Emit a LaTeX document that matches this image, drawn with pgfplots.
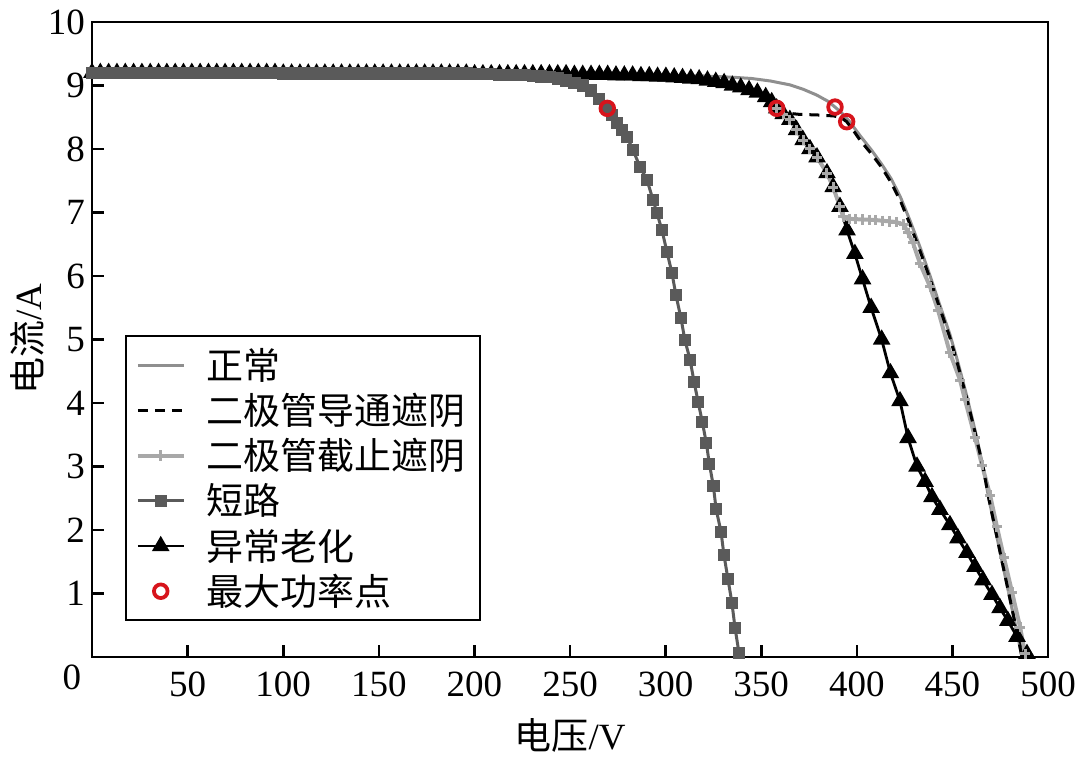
\documentclass[border=0pt]{standalone}
\usepackage{fontspec}
\setmainfont{Liberation Serif}
\newfontfamily\cjk{Noto Sans CJK SC}
\usepackage{pgfplots}
\usepackage{pgfplotstable}
\pgfplotsset{compat=1.18}

\definecolor{cnormal}{HTML}{8F8F8F}
\definecolor{ccut}{HTML}{A8A8A8}
\definecolor{cshort}{HTML}{5A5A5A}
\definecolor{cmpp}{HTML}{D7141C}

\newcommand{\bigfont}{\fontsize{18.5}{21}\selectfont}

\pgfplotsset{
  normalstyle/.style={cnormal, line width=1.5pt, no marks},
  condstyle/.style={black, line width=1.5pt, dash pattern=on 5pt off 3.5pt, no marks},
  cutline/.style={ccut, line width=2pt, no marks},
  cutstyle/.style={ccut, line width=2pt, mark=+, mark size=2.6pt, mark options={solid, line width=1.5pt}},
  shortstyle/.style={cshort, line width=1.5pt, mark=square*, mark size=2.3pt, mark options={solid, fill=cshort}},
  agestyle/.style={black, line width=1.4pt, mark=triangle*, mark size=3.7pt, mark options={solid}},
  mppstyle/.style={only marks, mark=o, mark size=3.4pt, mark options={cmpp, line width=1.9pt}},
}

% normal string
\pgfplotstableread{
V I
0 9.20
50 9.20
100 9.19
150 9.19
200 9.18
250 9.17
300 9.16
320 9.15
335 9.13
345 9.11
355 9.07
365 9.01
372 8.94
379 8.85
385 8.75
388.6 8.66
392 8.57
396 8.44
401.7 8.21
408 7.97
413 7.76
418 7.53
423 7.23
428 6.86
433 6.46
438 6.03
443 5.58
448.7 5.08
453 4.63
457.6 4.10
462 3.55
466 3.00
469 2.50
472.5 2.00
476 1.50
479.5 1.00
483 0.50
486.4 0
}\normaldata

% abnormal ageing (also the first part of both shading curves)
\pgfplotstableread{
V I
0 9.20
4.35 9.20
8.7 9.20
13.05 9.20
17.4 9.20
21.75 9.20
26.1 9.20
30.45 9.20
34.8 9.20
39.15 9.20
43.5 9.20
47.85 9.20
52.2 9.20
56.55 9.20
60.9 9.20
65.25 9.20
69.6 9.20
73.95 9.20
78.3 9.20
82.65 9.20
87 9.20
91.35 9.20
95.7 9.20
100.05 9.19
104.4 9.19
108.75 9.19
113.1 9.19
117.45 9.19
121.8 9.19
126.15 9.19
130.5 9.19
134.85 9.19
139.2 9.19
143.55 9.19
147.9 9.19
152.25 9.19
156.6 9.19
160.95 9.19
165.3 9.19
169.65 9.19
174 9.19
178.35 9.19
182.7 9.19
187.05 9.19
191.4 9.19
195.75 9.19
200.1 9.18
204.45 9.18
208.8 9.18
213.15 9.18
217.5 9.18
221.85 9.18
226.2 9.18
230.55 9.18
234.9 9.18
239.25 9.18
243.6 9.18
247.95 9.18
252.3 9.17
256.65 9.17
261 9.17
265.35 9.17
269.7 9.17
274.05 9.16
278.4 9.16
282.75 9.16
287.1 9.15
291.45 9.15
295.8 9.14
300.15 9.14
304.5 9.13
308.85 9.12
313.2 9.11
317.55 9.10
321.9 9.08
326.25 9.06
330.6 9.04
334.95 9.00
339.3 8.97
343.65 8.93
348 8.89
352.35 8.82
355.5 8.74
358.1 8.64
361.5 8.55
365 8.46
368.5 8.30
371.9 8.14
375.5 8.00
379.2 7.87
384.4 7.62
387.6 7.40
391.2 7.09
394.9 6.72
399 6.35
403 5.95
407.5 5.50
413 5.00
417.6 4.47
422.6 4.03
426.8 3.45
431.5 3.00
435.7 2.76
439.3 2.52
443.5 2.32
448.7 2.08
452.9 1.87
457.6 1.64
461.8 1.42
466 1.21
470.7 0.98
474.9 0.77
479 0.57
483.8 0.32
489 0.05
}\agedata

% diode conducting shading, after the first MPP
\pgfplotstableread{
V I
358.1 8.64
362 8.57
370 8.545
380 8.535
388 8.52
392 8.49
394.7 8.43
398 8.30
401.7 8.14
408 7.91
413 7.71
418 7.47
423 7.17
428 6.80
433 6.40
438 5.98
443 5.53
448.7 5.03
453 4.58
457.6 4.06
462 3.52
466 3.00
469 2.50
472.5 2.00
476 1.50
479.5 1.00
483 0.50
486.4 0
}\conddata

% diode cut-off shading, after the first MPP
\pgfplotstableread{
V I
358.1 8.64
361.5 8.55
365 8.46
368.5 8.30
371.9 8.14
375.5 8.00
379.2 7.87
384.4 7.62
387.6 7.40
391.2 7.09
393 6.93
396 6.90
399.5 6.895
403 6.89
406.5 6.885
410 6.88
413.5 6.87
417 6.86
420.5 6.85
424.6 6.81
426.8 6.68
429.4 6.52
433 6.20
438.3 5.83
442.5 5.46
448.7 4.79
454 4.36
456.6 4.05
461.8 3.46
465.5 3.02
469.7 2.55
473.3 2.05
477 1.56
481.2 1.02
485.4 0.47
488 0.05
}\cutdata

% short circuit
\pgfplotstableread{
V I
0 9.20
4.35 9.20
8.7 9.20
13.05 9.20
17.4 9.20
21.75 9.20
26.1 9.20
30.45 9.20
34.8 9.20
39.15 9.20
43.5 9.20
47.85 9.20
52.2 9.20
56.55 9.20
60.9 9.20
65.25 9.20
69.6 9.20
73.95 9.20
78.3 9.20
82.65 9.20
87 9.20
91.35 9.20
95.7 9.20
100.05 9.19
104.4 9.19
108.75 9.19
113.1 9.19
117.45 9.19
121.8 9.19
126.15 9.19
130.5 9.19
134.85 9.19
139.2 9.19
143.55 9.19
147.9 9.19
152.25 9.19
156.6 9.19
160.95 9.19
165.3 9.19
169.65 9.19
174 9.19
178.35 9.19
182.7 9.19
187.05 9.19
191.4 9.19
195.75 9.19
200.1 9.18
204.45 9.18
208.8 9.18
213.15 9.17
217.5 9.17
221.85 9.17
226.2 9.16
230.55 9.15
234.9 9.14
239.25 9.13
243.6 9.11
247.95 9.08
252.3 9.04
256.65 9.00
261 8.92
265.35 8.79
269.5 8.64
272 8.53
274.6 8.41
277.2 8.30
279.8 8.19
283 7.98
286.6 7.72
290.3 7.51
293.4 7.20
295.5 6.99
298.1 6.72
300.7 6.38
303.3 6.05
305.4 5.70
308 5.34
310.1 4.99
312.8 4.68
314.9 4.33
317 4.02
319.2 3.70
321.3 3.37
322.9 3.04
325 2.69
326.4 2.33
329 1.97
330.5 1.61
332.6 1.23
334.7 0.85
336.3 0.46
338.4 0.06
}\shortdata

% maximum power points
\pgfplotstableread{
V I
269.5 8.64
358.1 8.64
388.6 8.66
394.7 8.43
}\mppdata

\begin{document}
\begin{tikzpicture}
\useasboundingbox (-46pt,-50.5pt) rectangle (494pt,328.5pt);
\begin{axis}[
    scale only axis,
    width=478pt, height=317.5pt,
    xmin=0, xmax=500, ymin=0, ymax=10,
    xtick={50,100,...,500}, ytick={1,2,...,10},
    tick align=inside, xtick pos=bottom, ytick pos=left,
    major tick length=6pt,
    axis line style={line width=1.3pt},
    tick style={line width=1.3pt, black},
    ticklabel style={font=\bigfont},
    xticklabel style={yshift=-4pt},
    /pgf/number format/assume math mode=true,
    xlabel={{\cjk 电压}/V},
    ylabel={{\cjk 电流}/A},
    label style={font=\bigfont},
    xlabel style={at={(axis description cs:0.5,0)}, anchor=center, yshift=-39pt},
    ylabel style={at={(axis description cs:0,0.5)}, anchor=center, yshift=32.5pt},
    clip=false,
    legend image code/.code={\draw[mark repeat=2,mark phase=2,#1] plot coordinates {(0cm,0cm) (0.4cm,0cm) (0.8cm,0cm)}; \path (1.1cm,0cm);},
    legend cell align=left,
    legend style={at={(0.0345,0.507)}, anchor=north west, draw=black, line width=1pt,
        font=\cjk\bigfont, inner xsep=5pt, inner ysep=4pt,
        nodes={inner sep=2pt}, row sep=1.5pt},
]
\addplot[normalstyle, forget plot] table[x=V, y=I] {\normaldata};
\addplot[condstyle, forget plot, restrict x to domain=0:358.2] table[x=V, y=I] {\agedata};
\addplot[cutline, forget plot, restrict x to domain=0:358.2] table[x=V, y=I] {\agedata};
\addplot[agestyle, forget plot] table[x=V, y=I] {\agedata};
\addplot[shortstyle, forget plot] table[x=V, y=I] {\shortdata};
\addplot[cutstyle, forget plot] table[x=V, y=I] {\cutdata};
\addplot[condstyle, forget plot] table[x=V, y=I] {\conddata};
\addplot[mppstyle, forget plot] table[x=V, y=I] {\mppdata};

\addlegendimage{normalstyle}\addlegendentry{正常}
\addlegendimage{condstyle}\addlegendentry{二极管导通遮阴}
\addlegendimage{cutstyle}\addlegendentry{二极管截止遮阴}
\addlegendimage{shortstyle}\addlegendentry{短路}
\addlegendimage{agestyle}\addlegendentry{异常老化}
\addlegendimage{mppstyle}\addlegendentry{最大功率点}

\node[font=\bigfont, xshift=-10pt, yshift=-10pt] at (rel axis cs:0,0) {0};
\end{axis}
\end{tikzpicture}
\end{document}
